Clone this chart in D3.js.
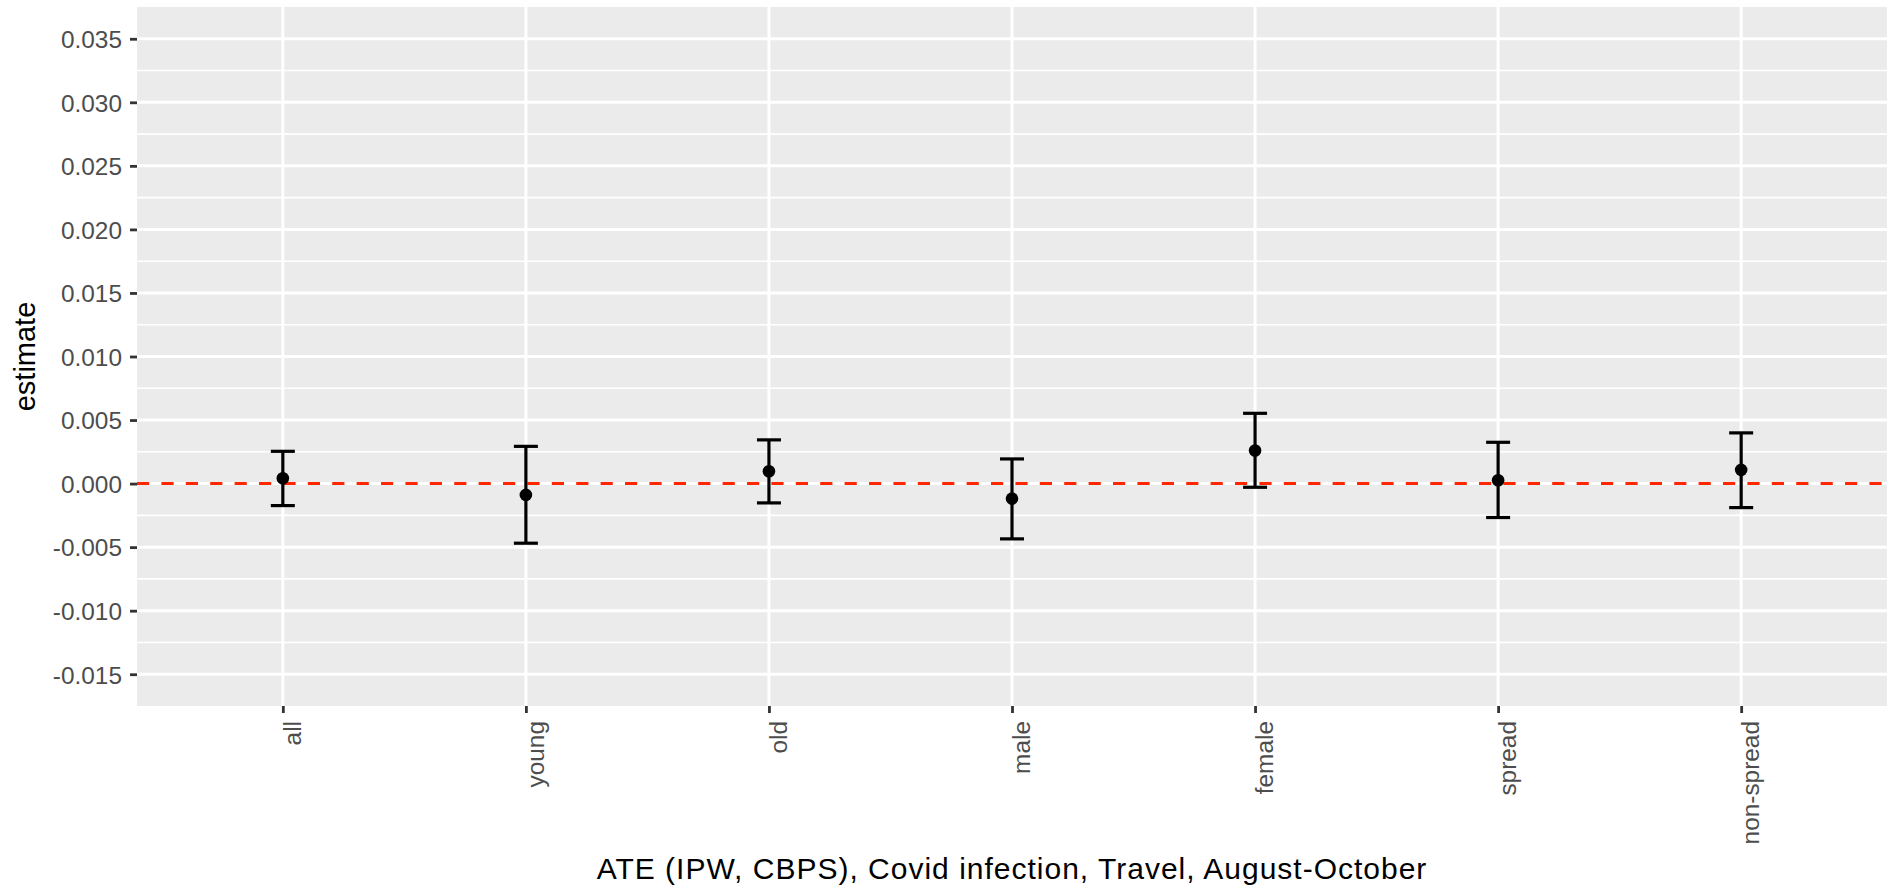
<!DOCTYPE html>
<html>
<head>
<meta charset="utf-8">
<script src="https://cdn.jsdelivr.net/npm/d3@7"></script>
<style>
  body { margin: 0; background: #fff; }
  text { font-family: "Liberation Sans", Arial, Helvetica, sans-serif; }
</style>
</head>
<body>
<div id="chart-area"></div>
<script>
// estimates
var groups = ["all", "young", "old", "male", "female", "spread", "non-spread"];
var estimate = [0.00042, -0.00089, 0.00097, -0.00118, 0.00260, 0.00026, 0.00108];
var lower = [-0.00173, -0.00469, -0.00152, -0.00435, -0.00029, -0.00267, -0.00189];
var upper = [0.00254, 0.00293, 0.00344, 0.00194, 0.00553, 0.00325, 0.00399];
var yTicks = [-0.015, -0.010, -0.005, 0.000, 0.005, 0.010, 0.015, 0.020, 0.025, 0.030, 0.035];
var yMinor = [-0.0125, -0.0075, -0.0025, 0.0025, 0.0075, 0.0125, 0.0175, 0.0225, 0.0275, 0.0325];

var width = 1887, height = 887;
var panel = { left: 137, right: 1887, top: 7, bottom: 706 };

var svg = d3.select("#chart-area")
    .append("svg")
    .attr("width", width)
    .attr("height", height);

var x = d3.scalePoint()
    .domain(groups)
    .range([panel.left, panel.right])
    .padding(0.6);

var y = d3.scaleLinear()
    .domain([-0.0175, 0.0375])
    .range([panel.bottom, panel.top]);

var data = groups.map(function(g, i) {
    return { name: g, est: estimate[i], lo: lower[i], hi: upper[i] };
});

// panel background
svg.append("rect")
    .attr("x", panel.left)
    .attr("y", panel.top)
    .attr("width", panel.right - panel.left)
    .attr("height", panel.bottom - panel.top)
    .attr("fill", "#EBEBEB");

// grid lines
svg.selectAll(".minor")
    .data(yMinor)
  .enter().append("line")
    .attr("x1", panel.left).attr("x2", panel.right)
    .attr("y1", y).attr("y2", y)
    .attr("stroke", "#fff")
    .attr("stroke-width", 1.6);

svg.selectAll(".majorY")
    .data(yTicks)
  .enter().append("line")
    .attr("x1", panel.left).attr("x2", panel.right)
    .attr("y1", y).attr("y2", y)
    .attr("stroke", "#fff")
    .attr("stroke-width", 3);

svg.selectAll(".majorX")
    .data(groups)
  .enter().append("line")
    .attr("x1", x).attr("x2", x)
    .attr("y1", panel.top).attr("y2", panel.bottom)
    .attr("stroke", "#fff")
    .attr("stroke-width", 3);

// reference line at zero
svg.append("line")
    .attr("x1", panel.left).attr("x2", panel.right)
    .attr("y1", y(0)).attr("y2", y(0))
    .attr("stroke", "#FF2600")
    .attr("stroke-width", 3)
    .attr("stroke-dasharray", "12.2,12.2");

// error bars
var bars = svg.selectAll(".bar")
    .data(data)
  .enter().append("g");

bars.append("line")
    .attr("x1", function(d) { return x(d.name); })
    .attr("x2", function(d) { return x(d.name); })
    .attr("y1", function(d) { return y(d.lo); })
    .attr("y2", function(d) { return y(d.hi); })
    .attr("stroke", "#000")
    .attr("stroke-width", 3.2);

bars.append("line")
    .attr("x1", function(d) { return x(d.name) - 12; })
    .attr("x2", function(d) { return x(d.name) + 12; })
    .attr("y1", function(d) { return y(d.hi); })
    .attr("y2", function(d) { return y(d.hi); })
    .attr("stroke", "#000")
    .attr("stroke-width", 3.2);

bars.append("line")
    .attr("x1", function(d) { return x(d.name) - 12; })
    .attr("x2", function(d) { return x(d.name) + 12; })
    .attr("y1", function(d) { return y(d.lo); })
    .attr("y2", function(d) { return y(d.lo); })
    .attr("stroke", "#000")
    .attr("stroke-width", 3.2);

bars.append("circle")
    .attr("cx", function(d) { return x(d.name); })
    .attr("cy", function(d) { return y(d.est); })
    .attr("r", 6.3)
    .attr("fill", "#000");

// y axis
var yAxis = svg.append("g")
    .attr("transform", "translate(" + panel.left + ",0)")
    .call(d3.axisLeft(y)
        .tickValues(yTicks)
        .tickFormat(d3.format(".3f"))
        .tickSize(7)
        .tickPadding(8));
yAxis.select(".domain").remove();
yAxis.selectAll(".tick line").attr("stroke", "#333").attr("stroke-width", 2.8);
yAxis.selectAll(".tick text")
    .attr("fill", "#4D4D4D")
    .style("font-size", "24.4px")
    .attr("dy", "0.36em")
    .text(function(d) { return d3.format(".3f")(d).replace("−", "-"); });

// x axis
var xAxis = svg.append("g")
    .attr("transform", "translate(0," + panel.bottom + ")")
    .call(d3.axisBottom(x).tickSize(7).tickPadding(0));
xAxis.select(".domain").remove();
xAxis.selectAll(".tick line").attr("stroke", "#333").attr("stroke-width", 2.8);
xAxis.selectAll(".tick text")
    .attr("fill", "#4D4D4D")
    .style("font-size", "24.4px")
    .attr("text-anchor", "end")
    .attr("transform", "translate(0,15) rotate(-90)")
    .attr("x", 0)
    .attr("y", 0)
    .attr("dy", "0.73em");

// axis titles
svg.append("text")
    .attr("x", (panel.left + panel.right) / 2)
    .attr("y", 879)
    .attr("text-anchor", "middle")
    .attr("fill", "#000")
    .style("font-size", "30px")
    .style("letter-spacing", "1px")
    .text("ATE (IPW, CBPS), Covid infection, Travel, August-October");

svg.append("text")
    .attr("transform", "translate(35," + (panel.top + panel.bottom) / 2 + ") rotate(-90)")
    .attr("text-anchor", "middle")
    .attr("fill", "#000")
    .style("font-size", "29px")
    .text("estimate");
</script>
</body>
</html>
